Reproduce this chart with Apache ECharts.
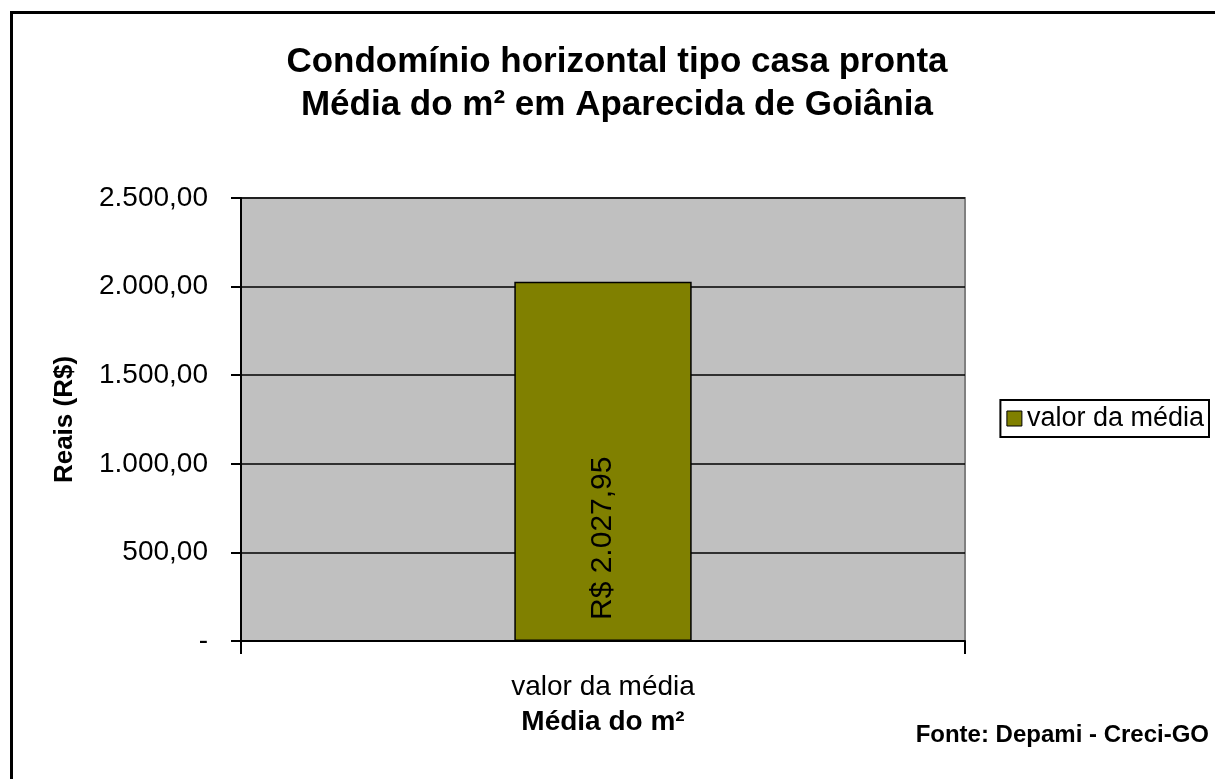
<!DOCTYPE html>
<html>
<head>
<meta charset="utf-8">
<script src="https://cdn.jsdelivr.net/npm/echarts@6/dist/echarts.min.js"></script>
<style>
html,body{margin:0;padding:0;background:#fff;}
#chart{width:1215px;height:779px;}
</style>
</head>
<body>
<div id="chart"></div>
<script>
const titleLines = ['Condomínio horizontal tipo casa pronta', 'Média do m² em Aparecida de Goiânia'];
const categories = ['valor da média'];
const seriesName = 'valor da média';
const values = [2027.95];
const yMin = 0, yMax = 2500, yInterval = 500;
const yAxisName = 'Reais (R$)';
const xAxisName = 'Média do m²';
const sourceText = 'Fonte: Depami - Creci-GO';

function fmtBR(v) {
  const neg = v < 0;
  v = Math.abs(v);
  const parts = v.toFixed(2).split('.');
  const intPart = parts[0].replace(/\B(?=(\d{3})+(?!\d))/g, '.');
  return (neg ? '-' : '') + intPart + ',' + parts[1];
}

const FONT = '"Liberation Sans", Arial, sans-serif';
const chart = echarts.init(document.getElementById('chart'));
chart.setOption({
  backgroundColor: '#ffffff',
  animation: false,
  title: {
    text: titleLines.join('\n'),
    left: 612, top: 36, textAlign: 'center',
    textStyle: { fontFamily: FONT, fontSize: 35, fontWeight: 'bold', color: '#000', lineHeight: 43 }
  },
  legend: {
    data: [seriesName],
    right: 6, top: 400,
    orient: 'vertical',
    icon: 'rect', itemWidth: 15, itemHeight: 15, itemGap: 0,
    padding: [5, 5, 5, 6],
    borderColor: '#000', borderWidth: 2, backgroundColor: '#fff',
    textStyle: { fontFamily: FONT, fontSize: 27, color: '#000' },
    itemStyle: { borderColor: '#000', borderWidth: 1 }
  },
  grid: {
    left: 241, right: 250, top: 198, bottom: 138,
    show: true, backgroundColor: '#C0C0C0', borderColor: '#808080', borderWidth: 2
  },
  xAxis: {
    type: 'category', data: categories,
    name: xAxisName, nameLocation: 'middle', nameGap: 67,
    nameTextStyle: { fontFamily: FONT, fontSize: 28, fontWeight: 'bold', color: '#000' },
    axisLine: { lineStyle: { color: '#000', width: 2 } },
    axisTick: { show: true, length: 13, lineStyle: { color: '#000', width: 2 } },
    axisLabel: { fontFamily: FONT, fontSize: 28, color: '#000', margin: 32 },
    splitLine: { show: false }
  },
  yAxis: {
    type: 'value', min: yMin, max: yMax, interval: yInterval,
    name: yAxisName, nameLocation: 'middle', nameGap: 163,
    nameTextStyle: { fontFamily: FONT, fontSize: 26, fontWeight: 'bold', color: '#000' },
    axisLine: { show: true, lineStyle: { color: '#000', width: 2 } },
    axisTick: { show: true, length: 10, lineStyle: { color: '#000', width: 2 } },
    axisLabel: {
      fontFamily: FONT, fontSize: 28, color: '#000', margin: 33,
      formatter: v => v === 0 ? '-' : fmtBR(v)
    },
    splitLine: { show: true, lineStyle: { color: '#000', width: 1.5 } }
  },
  series: [{
    name: seriesName, type: 'bar', data: values, barWidth: '24.5%',
    itemStyle: { color: '#808000', borderColor: '#000', borderWidth: 1.5 },
    label: {
      show: true, position: 'insideBottom', rotate: 90, align: 'left', verticalAlign: 'middle',
      distance: 21,
      fontFamily: FONT, fontSize: 30, color: '#000',
      formatter: p => 'R$ ' + fmtBR(p.value)
    }
  }],
  graphic: [
    { type: 'rect', left: 9, top: 10, shape: { width: 1400, height: 900 }, style: { fill: 'none', stroke: '#000', lineWidth: 3 }, z: 100 },
    { type: 'text', right: 6, top: 723, style: { text: sourceText, fontFamily: FONT, fontSize: 24, fontWeight: 'bold', fill: '#000' } }
  ]
});
</script>
</body>
</html>
